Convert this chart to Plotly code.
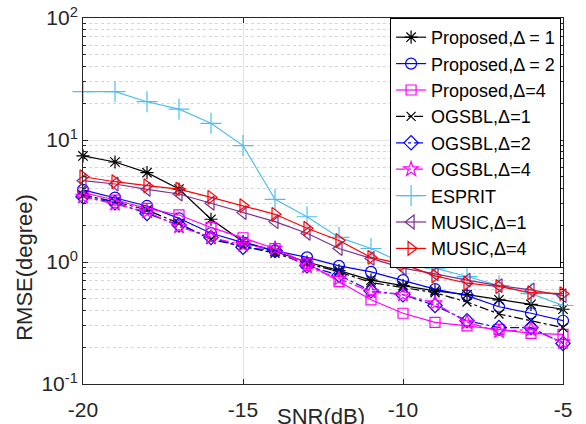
import plotly.graph_objects as go

snr = [-20, -19, -18, -17, -16, -15, -14, -13, -12, -11, -10, -9, -8, -7, -6, -5]

prop1 = [7.4, 6.6, 5.4, 3.96, 2.24, 1.47, 1.22, 1.0, 0.85, 0.71, 0.64, 0.58, 0.54, 0.49, 0.45, 0.41]
prop2 = [3.9, 3.37, 2.88, 2.28, 1.72, 1.44, 1.24, 1.09, 0.93, 0.83, 0.71, 0.60, 0.53, 0.43, 0.38, 0.33]
prop4 = [3.7, 3.22, 2.75, 2.43, 1.92, 1.58, 1.29, 0.975, 0.69, 0.49, 0.38, 0.32, 0.30, 0.28, 0.26, 0.255]
og1 = [3.54, 3.12, 2.67, 2.07, 1.53, 1.34, 1.18, 0.975, 0.83, 0.68, 0.62, 0.56, 0.47, 0.375, 0.33, 0.29]
og2 = [3.43, 3.06, 2.5, 2.01, 1.59, 1.32, 1.24, 0.93, 0.78, 0.58, 0.54, 0.44, 0.33, 0.29, 0.29, 0.215]
og4 = [3.43, 2.99, 2.59, 1.95, 1.59, 1.38, 1.29, 0.92, 0.73, 0.57, 0.54, 0.46, 0.32, 0.27, 0.28, 0.22]
esprit = [24.9, 24.9, 20.6, 17.9, 13.7, 9.0, 3.26, 2.35, 1.59, 1.29, 0.98, 0.89, 0.76, 0.64, 0.55, 0.44]
music1 = [4.64, 4.36, 3.94, 3.61, 3.03, 2.54, 2.14, 1.72, 1.29, 1.07, 0.89, 0.80, 0.71, 0.64, 0.59, 0.53]
music4 = [5.0, 4.55, 4.22, 3.96, 3.39, 2.9, 2.46, 1.89, 1.5, 1.09, 0.96, 0.77, 0.67, 0.63, 0.56, 0.55]

names = ["Proposed,Δ = 1", "Proposed,Δ = 2", "Proposed,Δ=4",
         "OGSBL,Δ=1", "OGSBL,Δ=2", "OGSBL,Δ=4",
         "ESPRIT", "MUSIC,Δ=1", "MUSIC,Δ=4"]
series = [prop1, prop2, prop4, og1, og2, og4, esprit, music1, music4]
colors = ["#000000", "#0000ff", "#ff00ff", "#000000", "#0000ff", "#ff00ff",
          "#4dbeee", "#7e2f8e", "#ff0000"]
symbols = ["asterisk-open", "circle-open", "square-open", "x-thin-open", "diamond-open",
           "star-open", "cross-thin-open", "triangle-left-open", "triangle-right-open"]
sizes = [11, 11, 10, 9, 11, 11, 15, 12, 12]
dashes = ["solid", "solid", "solid", "dashdot", "dashdot", "dashdot", "solid", "solid", "solid"]

ytickvals = [0.1, 1, 10, 100]
yticktext = ["10<sup>-1</sup>", "10<sup>0</sup>", "10<sup>1</sup>", "10<sup>2</sup>"]
xtickvals = [-20, -15, -10, -5]
xticktext = ["-20", "-15", "-10", "-5"]

fig = go.Figure()
for n, s, c, sym, sz, d in zip(names, series, colors, symbols, sizes, dashes):
    fig.add_trace(go.Scatter(
        x=snr, y=s, name=n, mode="lines+markers", cliponaxis=False,
        line=dict(color=c, width=1.2, dash=d),
        marker=dict(symbol=sym, size=sz, color=c, line=dict(color=c, width=1.2)),
    ))

font = "Arial, Liberation Sans, sans-serif"
fig.update_layout(
    width=586, height=424,
    margin=dict(l=83, r=23, t=18, b=40, autoexpand=False),
    paper_bgcolor="white", plot_bgcolor="white",
    font=dict(family=font, size=21, color="#262626"),
    showlegend=True,
    legend=dict(
        x=0.996, y=1.0, xanchor="right", yanchor="top",
        bgcolor="white", bordercolor="#000000", borderwidth=1,
        font=dict(family=font, size=18, color="#000000"),
        itemwidth=30, tracegroupgap=0, maxheight=400,
    ),
    xaxis=dict(
        range=[-20, -5], tickvals=xtickvals, ticktext=xticktext,
        ticks="inside", ticklen=5, ticklabelstandoff=7, automargin=False,
        tickcolor="#262626", showline=True, linecolor="#262626", linewidth=1,
        mirror="allticks", showgrid=True, gridcolor="#e3e3e3", gridwidth=1,
        zeroline=False, tickfont=dict(size=21),
    ),
    yaxis=dict(
        type="log", range=[-1, 2], tickvals=ytickvals, ticktext=yticktext,
        ticks="inside", ticklen=5, tickcolor="#262626", automargin=False,
        showline=True, linecolor="#262626", linewidth=1, mirror="allticks",
        showgrid=True, gridcolor="#e3e3e3", gridwidth=1, zeroline=False,
        tickfont=dict(size=21),
        minor=dict(dtick="D1", showgrid=True, gridcolor="#d6d6d6", griddash="dot",
                   ticks="inside", ticklen=3, tickcolor="#262626"),
    ),
    annotations=[
        dict(text="RMSE(degree)", xref="paper", yref="paper", x=-0.121, y=0.32,
             xanchor="center", yanchor="middle", textangle=-90, showarrow=False,
             font=dict(family=font, size=22, color="#262626")),
        dict(text="SNR(dB)", xref="paper", yref="paper", x=0.495, y=-0.09,
             xanchor="center", yanchor="middle", showarrow=False,
             font=dict(family=font, size=22, color="#262626")),
    ],
)

fig.write_html("out.html")
